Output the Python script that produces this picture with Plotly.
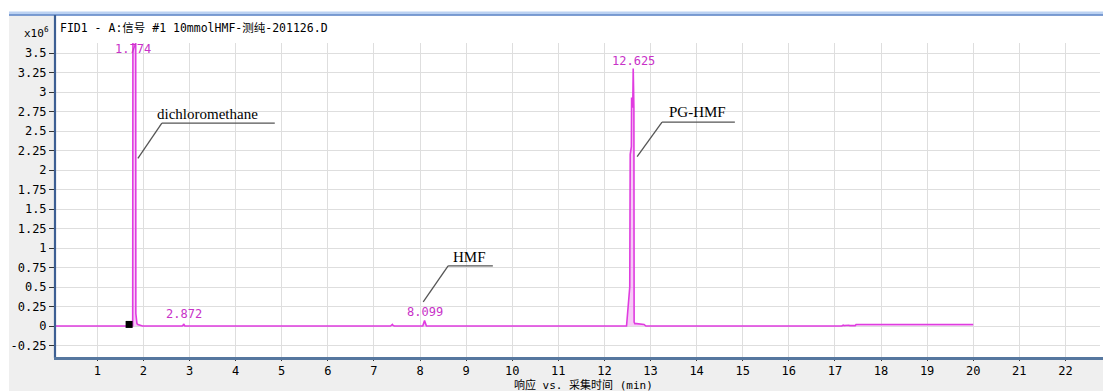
import plotly.graph_objects as go

# ---- data ----
times = [0.08, 1.60, 1.74, 1.768, 1.774, 1.832, 1.836, 1.845, 1.86, 1.88, 1.92, 1.98,
         2.84, 2.865, 2.872, 2.88, 2.90, 7.36, 7.39, 7.40, 7.41, 7.44,
         8.06, 8.085, 8.099, 8.115, 8.14,
         12.48, 12.495, 12.52, 12.55, 12.56, 12.585, 12.59, 12.615, 12.625, 12.64,
         12.645, 12.66, 12.70, 12.86, 12.90,
         17.15, 17.18, 17.20, 17.30, 17.32, 17.44, 17.46, 20.0]
signal = [0.0, 0.0, 0.0, 0.0, 5.0, 4.9, 0.16, 0.10, 0.03, 0.02, 0.01, 0.0,
          0.0, 0.01, 0.025, 0.01, 0.0, 0.0, 0.01, 0.02, 0.01, 0.0,
          0.0, 0.04, 0.07, 0.04, 0.0,
          0.0, 0.12, 0.2, 0.5, 2.2, 2.3, 2.93, 2.8, 3.3, 2.8,
          0.05, 0.03, 0.03, 0.02, 0.0,
          0.0, 0.01, 0.005, 0.01, 0.005, 0.005, 0.02, 0.02]

peak_rt = [1.774, 12.625, 2.872, 8.099]
peak_label_y = [3.55, 3.40, 0.154, 0.18]
peak_labels = ["1.774", "12.625", "2.872", "8.099"]

compounds = ["dichloromethane", "PG-HMF", "HMF"]
compound_text_xy = [(3.40, 2.72), (14.01, 2.74), (9.08, 0.885)]
compound_leader = [  # (tip, elbow, end)
    ((1.88, 2.15), (2.40, 2.60), (4.85, 2.60)),
    ((12.71, 2.17), (13.25, 2.615), (14.83, 2.615)),
    ((8.07, 0.31), (8.61, 0.77), (9.58, 0.77)),
]

marker_x = [1.69]
marker_y = [0.02]

x_ticks = list(range(1, 23))
y_ticks = [-0.25, 0, 0.25, 0.5, 0.75, 1, 1.25, 1.5, 1.75, 2, 2.25, 2.5, 2.75, 3, 3.25, 3.5]
y_tick_text = ["-0.25", "0", "0.25", "0.5", "0.75", "1", "1.25", "1.5", "1.75", "2",
               "2.25", "2.5", "2.75", "3", "3.25", "3.5"]

title_text = "FID1 - A:信号 #1 10mmolHMF-测纯-201126.D"
x_title = "响应 vs. 采集时间 (min)"

MONO = "DejaVu Sans Mono, Noto Sans CJK SC, monospace"
MAG = "#e03ce0"
LAB = "#c832c8"

# ---- layout geometry (pixels) ----
W, H = 1103, 391
L, R, T, B = 55, 3, 43, 33
pw, ph = W - L - R, H - T - B


def px(x):
    return (x - L) / pw


def py(y):
    return (H - B - y) / ph


fig = go.Figure()
fig.add_trace(go.Scatter(x=times, y=signal, mode="lines",
                         line=dict(color=MAG, width=1.6),
                         fill="tozeroy", fillcolor="rgba(240,160,240,0.55)",
                         hoverinfo="skip", showlegend=False))
fig.add_trace(go.Scatter(x=marker_x, y=marker_y, mode="markers",
                         marker=dict(symbol="square", size=7, color="black"),
                         showlegend=False, hoverinfo="skip"))

shapes = [
    dict(type="rect", xref="paper", yref="paper", x0=px(9), x1=px(W), y0=py(15), y1=py(H),
         fillcolor="#efefef", line=dict(width=0), layer="below"),
    dict(type="rect", xref="paper", yref="paper", x0=px(L), x1=px(W), y0=py(15), y1=py(H - B),
         fillcolor="white", line=dict(width=0), layer="below"),
    dict(type="rect", xref="paper", yref="paper", x0=px(9), x1=px(W), y0=py(15.5), y1=py(11.5),
         fillcolor="#bcd2f2", line=dict(width=0), layer="below"),
    dict(type="line", xref="paper", yref="paper", x0=px(9), x1=px(W), y0=py(15), y1=py(15),
         line=dict(color="#5f86c6", width=1.5)),
    dict(type="line", xref="paper", yref="paper", x0=px(55), x1=px(55), y0=py(15), y1=py(H - B),
         line=dict(color="#3d5f93", width=2.2)),
    dict(type="line", xref="paper", yref="paper", x0=px(54), x1=px(W), y0=py(H - B + 0.5), y1=py(H - B + 0.5),
         line=dict(color="#56779f", width=3)),
]
for tip, elbow, end in compound_leader:
    shapes.append(dict(type="line", x0=tip[0], y0=tip[1], x1=elbow[0], y1=elbow[1],
                       line=dict(color="#555555", width=1.3)))
    shapes.append(dict(type="line", x0=elbow[0], y0=elbow[1], x1=end[0], y1=end[1],
                       line=dict(color="#555555", width=1.3)))

annotations = [
    dict(xref="paper", yref="paper", x=px(58), y=py(28), xanchor="left", yanchor="middle",
         text=title_text, showarrow=False, font=dict(family=MONO, size=11.5, color="black")),
    dict(xref="paper", yref="paper", x=px(51), y=py(33), xanchor="right", yanchor="middle",
         text="x10<sup>6</sup>", showarrow=False, font=dict(family=MONO, size=11, color="black")),
    dict(xref="paper", yref="paper", x=px(583), y=py(385), xanchor="center", yanchor="middle",
         text=x_title, showarrow=False, font=dict(family=MONO, size=11, color="black")),
]
for xr, yl, t in zip(peak_rt, peak_label_y, peak_labels):
    annotations.append(dict(x=xr, y=yl, text=t, showarrow=False, xanchor="center", yanchor="middle",
                            font=dict(family=MONO, size=12, color=LAB)))
for name, (xt, yt) in zip(compounds, compound_text_xy):
    annotations.append(dict(x=xt, y=yt, text=name, showarrow=False, xanchor="center", yanchor="middle",
                            font=dict(family="Liberation Serif, Times New Roman, serif", size=15,
                                      color="black")))

x0 = (L - 51.2) / 46.1
x1 = (W - R - 51.2) / 46.1
y_top = (326 - T) / 78
y_bot = (326 - (H - B)) / 78

fig.update_layout(
    width=W, height=H,
    margin=dict(l=L, r=R, t=T, b=B, pad=0),
    paper_bgcolor="white", plot_bgcolor="white",
    shapes=shapes, annotations=annotations,
    xaxis=dict(range=[x0, x1], tickvals=x_ticks, ticktext=[str(v) for v in x_ticks],
               showgrid=True, gridcolor="#dedede", gridwidth=1, zeroline=False,
               ticks="outside", ticklen=2, tickcolor="#333333",
               showline=False, tickfont=dict(family=MONO, size=12, color="black")),
    yaxis=dict(range=[y_bot, y_top], tickvals=y_ticks, ticktext=y_tick_text,
               showgrid=True, gridcolor="#dedede", gridwidth=1, zeroline=False,
               ticks="outside", ticklen=5, tickcolor="#333333",
               showline=False, tickfont=dict(family=MONO, size=12, color="black")),
    showlegend=False,
)

fig.write_html("out.html")
